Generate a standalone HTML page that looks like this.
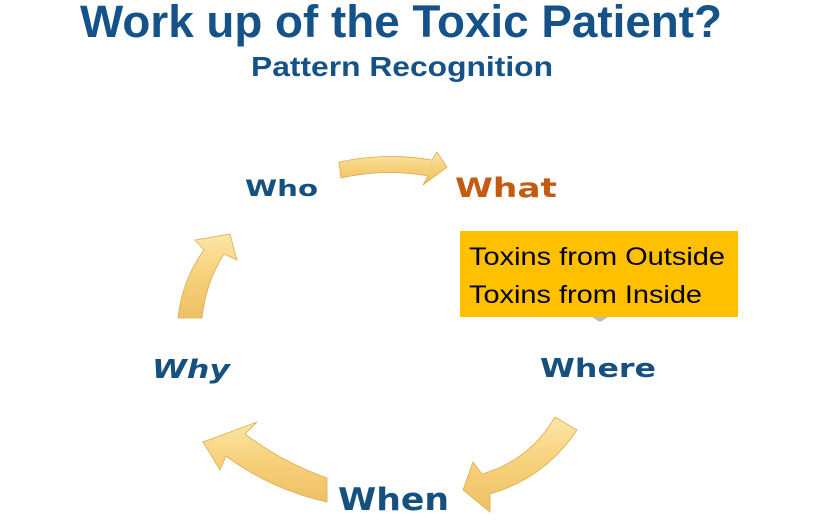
<!DOCTYPE html>
<html><head><meta charset="utf-8"><style>
html,body{margin:0;padding:0;background:#fff;width:820px;height:520px;overflow:hidden}
svg{display:block}
</style></head><body>
<svg width="820" height="520" viewBox="0 0 820 520" xmlns="http://www.w3.org/2000/svg">
<defs>
<linearGradient id="g" x1="0" y1="0" x2="0" y2="1">
<stop offset="0" stop-color="#fce6a6"/><stop offset="0.5" stop-color="#f7d07a"/><stop offset="1" stop-color="#eec066"/>
</linearGradient>
</defs>
<text x="80" y="37" font-family="Liberation Sans, sans-serif" font-weight="bold" font-size="45" fill="#155289" textLength="642" lengthAdjust="spacingAndGlyphs">Work up of the Toxic Patient?</text>
<text x="251" y="76" font-family="Liberation Sans, sans-serif" font-weight="bold" font-size="28" fill="#155289" textLength="302" lengthAdjust="spacingAndGlyphs">Pattern Recognition</text>

<g fill="url(#g)" stroke="#dcae50" stroke-width="0.8">
<path d="M339,162 Q385,152 432,160 L437,152 L447,167 L423,185 L428,176 Q385,168 341,178 Z"/>
<path d="M178,318 Q182,280 204,250 L195,240 L230,234 L237,260 L224,254 Q206,282 202,318 Z"/>
<path d="M555,417 L577,430 Q545,478 490,494 L490,512 L463,490 L473,462 L482,474 Q530,460 555,417 Z"/>
<path d="M327,478 L327,502 Q272,490 226,456 L220,470 L203,442 L257,422 L245,434 Q282,462 327,478 Z"/>
</g>

<text x="245" y="196" font-family="DejaVu Sans, sans-serif" font-weight="bold" font-size="22" fill="#15507f" textLength="73" lengthAdjust="spacingAndGlyphs">Who</text>
<text x="455" y="197" font-family="DejaVu Sans, sans-serif" font-weight="bold" font-size="27" fill="#c55a11" textLength="102" lengthAdjust="spacingAndGlyphs">What</text>
<text x="152" y="378" font-family="DejaVu Sans, sans-serif" font-weight="bold" font-style="italic" font-size="26" fill="#15507f" textLength="78" lengthAdjust="spacingAndGlyphs">Why</text>
<text x="540" y="377" font-family="DejaVu Sans, sans-serif" font-weight="bold" font-size="26" fill="#15507f" textLength="116" lengthAdjust="spacingAndGlyphs">Where</text>
<text x="338" y="510" font-family="DejaVu Sans, sans-serif" font-weight="bold" font-size="31" fill="#15507f" textLength="111" lengthAdjust="spacingAndGlyphs">When</text>

<path d="M590,316 L600,322 L610,316 Z" fill="#bbb"/>
<rect x="460" y="231" width="278" height="86" fill="#ffc000"/>
<text x="469" y="265" font-family="Liberation Sans, sans-serif" font-size="25" fill="#000" textLength="256" lengthAdjust="spacingAndGlyphs">Toxins from Outside</text>
<text x="469" y="303" font-family="Liberation Sans, sans-serif" font-size="25" fill="#000" textLength="233" lengthAdjust="spacingAndGlyphs">Toxins from Inside</text>
</svg>
</body></html>
